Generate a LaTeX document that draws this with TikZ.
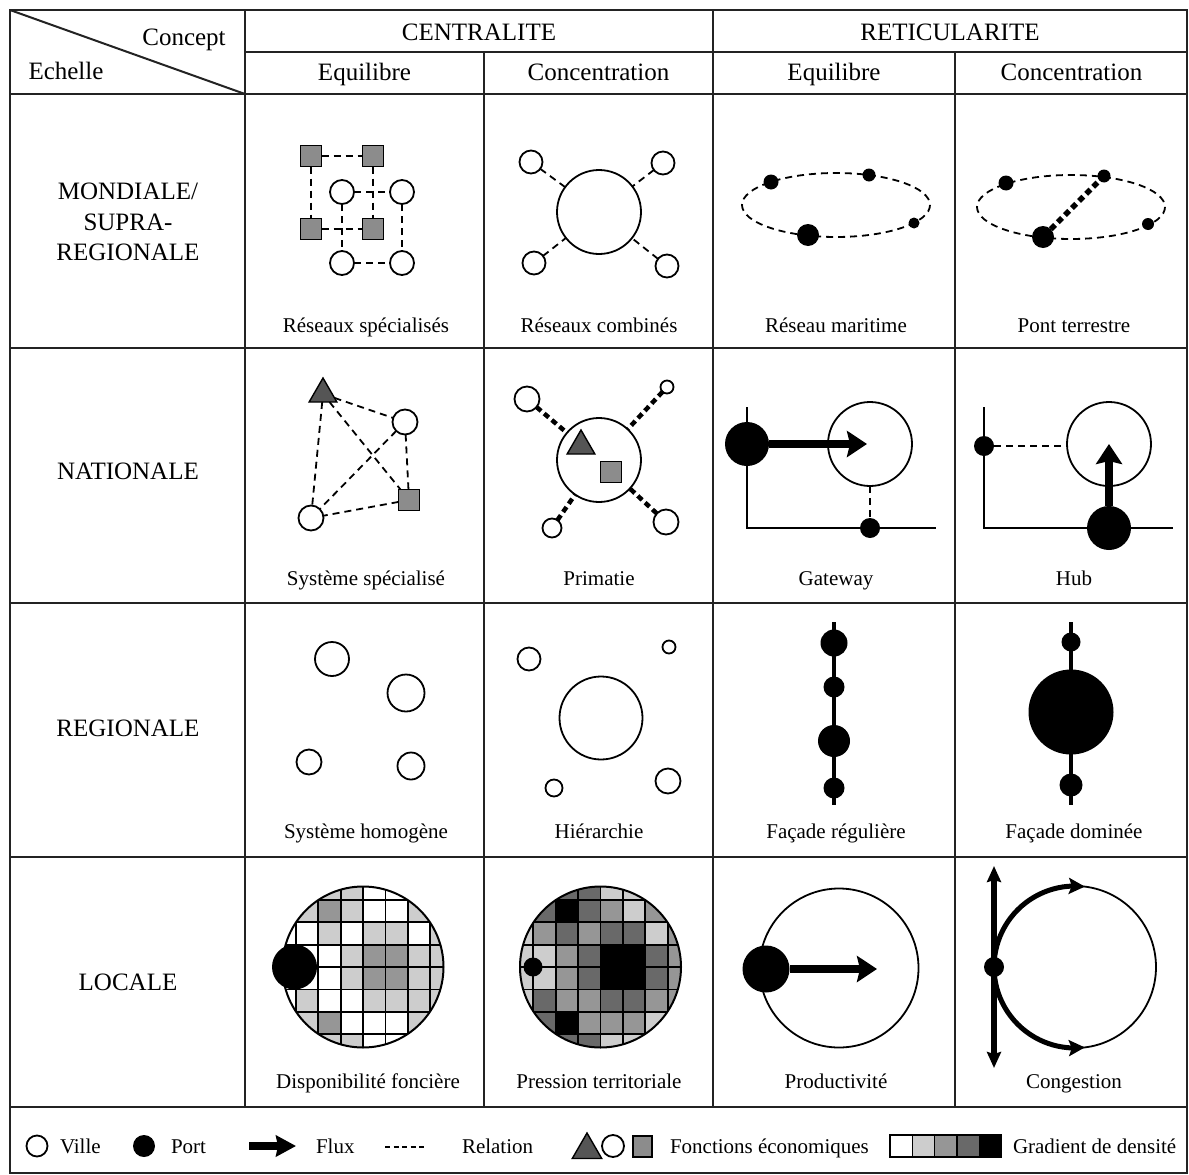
\documentclass[tikz,border=0pt]{standalone}
\usepackage{fontspec}
\setmainfont{Liberation Serif}
\usetikzlibrary{arrows.meta,shapes.geometric,bending}
\definecolor{gW}{RGB}{255,255,255}
\definecolor{gL}{RGB}{205,205,205}
\definecolor{gM}{RGB}{150,150,150}
\definecolor{gD}{RGB}{105,105,105}
\definecolor{gB}{RGB}{0,0,0}
\definecolor{triF}{RGB}{85,85,85}
\definecolor{sqF}{RGB}{140,140,140}
\definecolor{rulec}{RGB}{35,35,35}
\begin{document}
\begin{tikzpicture}[x=1pt,y=-1pt,
  every node/.style={inner sep=0pt, outer sep=0pt},
  tabline/.style={draw=rulec, line width=2pt},
  hdr/.style={font=\fontsize{25}{30}\selectfont, anchor=base},
  lbl/.style={font=\fontsize{21}{25}\selectfont, anchor=base},
  ville/.style={circle, draw, line width=1.8pt, fill=white, minimum size=#1},
  port/.style={circle, fill=black, minimum size=#1},
  fsq/.style={rectangle, draw, line width=1.8pt, fill=sqF, minimum size=21pt},
  ftri/.style={regular polygon, regular polygon sides=3, draw, line width=1.4pt, fill=triF, minimum size=32pt},
  rel/.style={line width=1.8pt, dash pattern=on 7pt off 5pt},
  relthick/.style={line width=5.5pt, dash pattern=on 6pt off 4pt},
  flux/.style={line width=8pt, -{Stealth[length=20pt,width=26pt,inset=3pt]}},
  axisline/.style={line width=2pt},
  coast/.style={line width=4pt},
  gridline/.style={line width=1.8pt},
  gbox/.style={rectangle, draw, line width=1.5pt, minimum width=22.3pt, minimum height=22pt}
]
\useasboundingbox (0,0) rectangle (1189,1175);
\fill[white] (0,0) rectangle (1189,1175);

% ---------------- table ----------------
\draw[tabline] (10,10) rectangle (1187,1173);
\draw[tabline] (245,52) -- (1187,52);
\draw[tabline] (10,94) -- (1187,94);
\draw[tabline] (10,348) -- (1187,348);
\draw[tabline] (10,603) -- (1187,603);
\draw[tabline] (10,857) -- (1187,857);
\draw[tabline] (10,1107) -- (1187,1107);
\draw[tabline] (245,10) -- (245,1107);
\draw[tabline] (713,10) -- (713,1107);
\draw[tabline] (484,52) -- (484,1107);
\draw[tabline] (955,52) -- (955,1107);
\draw[tabline] (10,10) -- (245,94);

% ---------------- headers ----------------
\node[hdr] (concept) at (184,45) {Concept};
\node[hdr] (echelle) at (66,79) {Echelle};
\node[hdr] (cent) at (479,40) {CENTRALITE};
\node[hdr] (reti) at (950,40) {RETICULARITE};
\node[hdr] (hA) at (364.5,80) {Equilibre};
\node[hdr] (hB) at (598.5,80) {Concentration};
\node[hdr] (hC) at (834,80) {Equilibre};
\node[hdr] (hD) at (1071.5,80) {Concentration};

\node[hdr] (r1a) at (128,199) {MONDIALE/};
\node[hdr] (r1b) at (128,230) {SUPRA-};
\node[hdr] (r1c) at (128,260) {REGIONALE};
\node[hdr] (r2) at (128,479) {NATIONALE};
\node[hdr] (r3) at (128,736) {REGIONALE};
\node[hdr] (r4) at (128,990) {LOCALE};

% ---------------- cell labels ----------------
\node[lbl] (lA1) at (366,332) {Réseaux spécialisés};
\node[lbl] (lB1) at (599,332) {Réseaux combinés};
\node[lbl] (lC1) at (836,332) {Réseau maritime};
\node[lbl] (lD1) at (1074,332) {Pont terrestre};
\node[lbl] (lA2) at (366,585) {Système spécialisé};
\node[lbl] (lB2) at (599,585) {Primatie};
\node[lbl] (lC2) at (836,585) {Gateway};
\node[lbl] (lD2) at (1074,585) {Hub};
\node[lbl] (lA3) at (366,838) {Système homogène};
\node[lbl] (lB3) at (599,838) {Hiérarchie};
\node[lbl] (lC3) at (836,838) {Façade régulière};
\node[lbl] (lD3) at (1074,838) {Façade dominée};
\node[lbl] (lA4) at (368,1088) {Disponibilité foncière};
\node[lbl] (lB4) at (599,1088) {Pression territoriale};
\node[lbl] (lC4) at (836,1088) {Productivité};
\node[lbl] (lD4) at (1074,1088) {Congestion};

% ---------------- A1 Réseaux spécialisés ----------------
\node[fsq] (a1s1) at (311,156) {};
\node[fsq] (a1s2) at (373,156) {};
\node[fsq] (a1s3) at (311,229) {};
\node[fsq] (a1s4) at (373,229) {};
\node[ville=24pt] (a1c1) at (342,192) {};
\node[ville=24pt] (a1c2) at (402,192) {};
\node[ville=24pt] (a1c3) at (342,263) {};
\node[ville=24pt] (a1c4) at (402,263) {};
\draw[rel] (a1s1) -- (a1s2);
\draw[rel] (a1s1) -- (a1s3);
\draw[rel] (a1s2) -- (a1s4);
\draw[rel] (a1s3) -- (a1s4);
\draw[rel] (a1c1) -- (a1c2);
\draw[rel] (a1c1) -- (a1c3);
\draw[rel] (a1c2) -- (a1c4);
\draw[rel] (a1c3) -- (a1c4);

% ---------------- B1 Réseaux combinés ----------------
\node[ville=84pt] (b1big) at (599,212) {};
\node[ville=23pt] (b1a) at (531,162) {};
\node[ville=23pt] (b1b) at (663,163) {};
\node[ville=23pt] (b1c) at (534,263) {};
\node[ville=23pt] (b1d) at (667,266) {};
\foreach \s in {b1a,b1b,b1c,b1d} {\draw[rel] (\s) -- (b1big);}

% ---------------- C1 Réseau maritime ----------------
\coordinate (c1e) at (836,205);
\draw[rel] (c1e) ellipse [x radius=94, y radius=32];
\node[port=15pt] (c1a) at (771,182) {};
\node[port=13pt] (c1b) at (869,175) {};
\node[port=11pt] (c1c) at (914,223) {};
\node[port=22pt] (c1d) at (808,235) {};

% ---------------- D1 Pont terrestre ----------------
\coordinate (d1e) at (1071,207);
\draw[rel] (d1e) ellipse [x radius=94, y radius=32];
\node[port=15pt] (d1a) at (1006,183) {};
\node[port=13pt] (d1b) at (1104,176) {};
\node[port=12pt] (d1c) at (1148,224) {};
\node[port=22pt] (d1d) at (1043,237) {};
\draw[relthick] (d1d) -- (d1b);

% ---------------- A2 Système spécialisé ----------------
\node[ftri] (a2t) at (323,394) {};
\node[ville=25pt] (a2c) at (405,422) {};
\node[fsq] (a2s) at (409,500) {};
\node[ville=25pt] (a2d) at (311,518) {};
\draw[rel] (a2t) -- (a2c);
\draw[rel] (a2t) -- (a2s);
\draw[rel] (a2t) -- (a2d);
\draw[rel] (a2c) -- (a2s);
\draw[rel] (a2c) -- (a2d);
\draw[rel] (a2s) -- (a2d);

% ---------------- B2 Primatie ----------------
\node[ville=84pt] (b2big) at (599,460) {};
\node[ftri] (b2t) at (581,446) {};
\node[fsq] (b2s) at (611,472) {};
\node[ville=25pt] (b2a) at (527,399) {};
\node[ville=13pt] (b2b) at (667,387) {};
\node[ville=19pt] (b2c) at (552,528) {};
\node[ville=25pt] (b2d) at (666,522) {};
\foreach \s in {b2a,b2b,b2c,b2d} {\draw[relthick, line width=4.5pt] (\s) -- (b2big);}

% ---------------- C2 Gateway ----------------
\coordinate (gtop) at (747,407);
\coordinate (gcorner) at (747,528);
\coordinate (gright) at (936,528);
\draw[axisline] (gtop) -- (gcorner) -- (gright);
\node[ville=84pt] (gcirc) at (870,444) {};
\node[port=44pt] (gport) at (747,444) {};
\node[port=20pt] (gdot) at (870,528) {};
\draw[rel] (gcirc) -- (gdot);
\coordinate (gend) at (867,444);
\draw[flux] (gport) -- (gend);

% ---------------- D2 Hub ----------------
\coordinate (htop) at (984,407);
\coordinate (hcorner) at (984,528);
\coordinate (hright) at (1173,528);
\draw[axisline] (htop) -- (hcorner) -- (hright);
\node[ville=84pt] (hcirc) at (1109,444) {};
\node[port=20pt] (hdot) at (984,446) {};
\draw[rel] (hdot) -- (hdot -| hcirc.west);
\node[port=44pt] (hport) at (1109,528) {};
\draw[flux] (hport) -- (hcirc.center);

% ---------------- A3 Système homogène ----------------
\node[ville=34pt] (a3a) at (332,659) {};
\node[ville=37pt] (a3b) at (406,693) {};
\node[ville=25pt] (a3c) at (309,762) {};
\node[ville=27pt] (a3d) at (411,766) {};

% ---------------- B3 Hiérarchie ----------------
\node[ville=83pt] (b3big) at (601,718) {};
\node[ville=23pt] (b3a) at (529,659) {};
\node[ville=13pt] (b3b) at (669,647) {};
\node[ville=17pt] (b3c) at (554,788) {};
\node[ville=25pt] (b3d) at (668,781) {};

% ---------------- C3 Façade régulière ----------------
\coordinate (frt) at (834,622);
\coordinate (frb) at (834,805);
\draw[coast] (frt) -- (frb);
\node[port=27pt] (fr1) at (834,643) {};
\node[port=21pt] (fr2) at (834,687) {};
\node[port=32pt] (fr3) at (834,741) {};
\node[port=21pt] (fr4) at (834,788) {};

% ---------------- D3 Façade dominée ----------------
\coordinate (fdt) at (1071,622);
\coordinate (fdb) at (1071,805);
\draw[coast] (fdt) -- (fdb);
\node[port=19pt] (fd1) at (1071,642) {};
\node[port=85pt] (fd2) at (1071,712) {};
\node[port=23pt] (fd3) at (1071,785) {};

% ---------------- A4 Disponibilité foncière ----------------
\begin{scope}
  \clip (363,967) circle [radius=80.5];
  \foreach \row [count=\j from 0] in {
    {gW,gW,gL,gL,gW,gW,gW,gW},
    {gW,gL,gM,gL,gW,gW,gL,gW},
    {gW,gW,gL,gW,gL,gL,gW,gL},
    {gW,gW,gW,gL,gM,gM,gL,gL},
    {gW,gW,gW,gL,gM,gM,gL,gL},
    {gW,gL,gW,gW,gL,gL,gL,gL},
    {gW,gL,gM,gW,gW,gW,gL,gW},
    {gW,gW,gL,gL,gW,gW,gW,gW}} {
    \foreach \c [count=\i from 0] in \row {
      \fill[\c] ({273.4+\i*22.4},{877.4+\j*22.4}) rectangle +(22.4,22.4);
    }
  }
  \foreach \k in {-3,...,3} {
    \draw[gridline] ({363+\k*22.4},880) -- ({363+\k*22.4},1054);
    \draw[gridline] (276,{967+\k*22.4}) -- (450,{967+\k*22.4});
  }
\end{scope}
\node[circle, draw, line width=2pt, minimum size=161pt] (a4circ) at (363,967) {};
\node[port=45pt] (a4port) at (294.5,967) {};

% ---------------- B4 Pression territoriale ----------------
\begin{scope}
  \clip (600.5,967) circle [radius=80.5];
  \foreach \row [count=\j from 0] in {
    {gW,gW,gD,gD,gL,gL,gW,gW},
    {gW,gD,gB,gD,gM,gL,gM,gW},
    {gL,gM,gD,gM,gD,gD,gL,gM},
    {gL,gL,gM,gD,gB,gB,gD,gM},
    {gL,gL,gM,gD,gB,gB,gD,gM},
    {gL,gD,gM,gM,gD,gD,gM,gM},
    {gW,gD,gB,gM,gM,gM,gL,gW},
    {gW,gW,gD,gD,gL,gL,gW,gW}} {
    \foreach \c [count=\i from 0] in \row {
      \fill[\c] ({510.9+\i*22.4},{877.4+\j*22.4}) rectangle +(22.4,22.4);
    }
  }
  \foreach \k in {-3,...,3} {
    \draw[gridline] ({600.5+\k*22.4},880) -- ({600.5+\k*22.4},1054);
    \draw[gridline] (513,{967+\k*22.4}) -- (688,{967+\k*22.4});
  }
\end{scope}
\node[circle, draw, line width=2pt, minimum size=161pt] (b4circ) at (600.5,967) {};
\node[port=19pt] (b4port) at (533,967) {};

% ---------------- C4 Productivité ----------------
\node[ville=159pt] (pcirc) at (839,968) {};
\node[port=47pt] (pport) at (766,969) {};
\coordinate (pend) at (877,969);
\draw[flux] (pport) -- (pend);

% ---------------- D4 Congestion ----------------
\node[ville=162pt] (ccirc) at (1075,967) {};
\coordinate (ctop) at (994,866);
\coordinate (cbot) at (994,1068);
\coordinate (cpt) at (994,967);
\draw[line width=6pt, {Stealth[length=16pt,width=14pt,inset=2pt]}-{Stealth[length=16pt,width=14pt,inset=2pt]}] (ctop) -- (cbot);
\draw[line width=5pt, -{Stealth[length=16pt,width=16pt,inset=3pt]}] (cpt) arc [start angle=180, end angle=277, radius=81];
\draw[line width=5pt, -{Stealth[length=16pt,width=16pt,inset=3pt]}] (cpt) arc [start angle=180, end angle=83, radius=81];
\node[port=20pt] (cdot) at (cpt) {};

% ---------------- legend ----------------
\node[ville=21pt] (lgv) at (37,1146) {};
\node[lbl, anchor=base west] (lgvt) at (60,1153) {Ville};
\node[port=22pt] (lgp) at (144,1146) {};
\node[lbl, anchor=base west] (lgpt) at (171,1153) {Port};
\coordinate (lga1) at (249,1146);
\coordinate (lga2) at (296,1146);
\draw[line width=8pt, -{Stealth[length=20pt,width=21pt,inset=2pt]}] (lga1) -- (lga2);
\node[lbl, anchor=base west] (lgft) at (316,1153) {Flux};
\coordinate (lgr1) at (385,1147);
\coordinate (lgr2) at (425,1147);
\draw[line width=1.6pt, dash pattern=on 5pt off 3.5pt] (lgr1) -- (lgr2);
\node[lbl, anchor=base west] (lgrt) at (462,1153) {Relation};
\node[ftri, minimum size=34pt] (lgt) at (587,1150) {};
\node[ville=22pt] (lgc) at (613,1146) {};
\node[fsq, minimum width=19pt, minimum height=21pt] (lgs) at (642.5,1146.5) {};
\node[lbl, anchor=base west] (lgfe) at (670,1153) {Fonctions économiques};
\node[gbox, fill=gW] (g1) at (901.2,1146) {};
\node[gbox, fill=gL] (g2) at (923.5,1146) {};
\node[gbox, fill=gM] (g3) at (945.8,1146) {};
\node[gbox, fill=gD] (g4) at (968.2,1146) {};
\node[gbox, fill=gB] (g5) at (990.5,1146) {};
\node[lbl, anchor=base west] (lggt) at (1013,1153) {Gradient de densité};
\end{tikzpicture}
\end{document}
